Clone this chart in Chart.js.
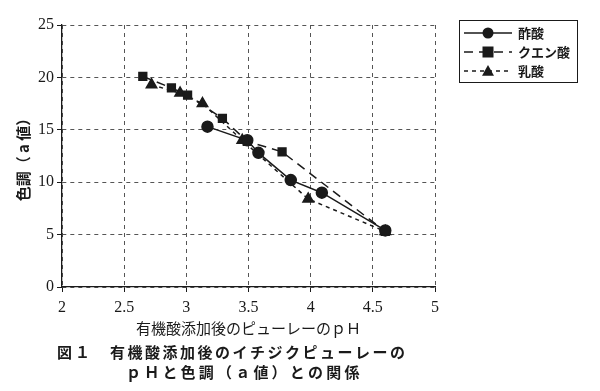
<!DOCTYPE html>
<html>
<head>
<meta charset="utf-8">
<script src="https://cdn.jsdelivr.net/npm/chart.js@4.4.1/dist/chart.umd.min.js"></script>
<style>
  html, body { margin: 0; padding: 0; background: #fff; }
  #wrap { width: 600px; height: 391px; }
</style>
</head>
<body>
<div id="wrap"><canvas id="chart1" width="600" height="391"></canvas></div>
<script>
const xTicks = [2, 2.5, 3, 3.5, 4, 4.5, 5];
const yTicks = [0, 5, 10, 15, 20, 25];

const sakusanPH = [3.17, 3.49, 3.58, 3.84, 4.09, 4.60];
const sakusanA  = [15.3, 14.0, 12.8, 10.2, 9.0, 5.4];

const citricPH = [2.65, 2.88, 3.01, 3.29, 3.49, 3.77, 4.60];
const citricA  = [20.1, 19.0, 18.3, 16.1, 13.9, 12.9, 5.3];

const lacticPH = [2.72, 2.95, 3.13, 3.45, 3.98, 4.60];
const lacticA  = [19.3, 18.5, 17.5, 14.0, 8.4, 5.3];

const seriesNames = ['酢酸', 'クエン酸', '乳酸'];

const jp = '"Noto Sans CJK JP", sans-serif';
const serif = '"Liberation Serif", "DejaVu Serif", serif';
const ink = '#1a1a1a';

function pts(xs, ys) {
  return xs.map((x, i) => ({ x: x, y: ys[i] }));
}

// legend box at upper right + caption under the chart
const extras = {
  id: 'extras',
  afterDraw(chart) {
    const ctx = chart.ctx;
    ctx.save();
    // legend
    ctx.strokeStyle = ink;
    ctx.lineWidth = 1;
    ctx.strokeRect(459.5, 20.5, 118, 62);
    chart.data.datasets.forEach((ds, i) => {
      const y = 33 + i * 19;
      ctx.beginPath();
      ctx.setLineDash(ds.borderDash || []);
      ctx.strokeStyle = ink;
      ctx.lineWidth = 1.3;
      ctx.moveTo(464, y);
      ctx.lineTo(512, y);
      ctx.stroke();
      ctx.setLineDash([]);
      ctx.fillStyle = ink;
      const r = ds.pointRadius;
      ctx.beginPath();
      if (ds.pointStyle === 'rect') {
        ctx.fillRect(488 - r, y - r, 2 * r, 2 * r);
      } else if (ds.pointStyle === 'triangle') {
        ctx.moveTo(488, y - r);
        ctx.lineTo(488 + r, y + r * 0.8);
        ctx.lineTo(488 - r, y + r * 0.8);
        ctx.closePath();
        ctx.fill();
      } else {
        ctx.arc(488, y, r, 0, Math.PI * 2);
        ctx.fill();
      }
      ctx.font = 'bold 13px ' + jp;
      ctx.textBaseline = 'middle';
      ctx.textAlign = 'left';
      ctx.fillText(ds.label, 518, y);
    });
    // caption
    ctx.fillStyle = ink;
    ctx.textBaseline = 'middle';
    ctx.textAlign = 'left';
    ctx.font = 'bold 15px ' + jp;
    ctx.letterSpacing = '3px';
    ctx.fillText('図１', 57, 352);
    ctx.letterSpacing = '2.5px';
    ctx.fillText('有機酸添加後のイチジクピューレーの', 110, 352);
    ctx.letterSpacing = '3.2px';
    ctx.fillText('ｐＨと色調（ａ値）との関係', 126, 372);
    ctx.restore();
  }
};

const config1 = {
  type: 'line',
  data: {
    datasets: [
      {
        label: seriesNames[0],
        data: pts(sakusanPH, sakusanA),
        borderColor: ink,
        backgroundColor: ink,
        borderWidth: 1.5,
        pointStyle: 'circle',
        pointRadius: 5.5,
        borderDash: []
      },
      {
        label: seriesNames[1],
        data: pts(citricPH, citricA),
        borderColor: ink,
        backgroundColor: ink,
        borderWidth: 1.5,
        pointStyle: 'rect',
        pointRadius: 5.5,
        borderDash: [9, 6]
      },
      {
        label: seriesNames[2],
        data: pts(lacticPH, lacticA),
        borderColor: ink,
        backgroundColor: ink,
        borderWidth: 1.5,
        pointStyle: 'triangle',
        pointRadius: 6,
        borderDash: [4, 4]
      }
    ]
  },
  options: {
    responsive: false,
    animation: false,
    layout: { padding: { top: 25, right: 165, bottom: 54, left: 0 } },
    plugins: {
      legend: { display: false },
      tooltip: { enabled: false }
    },
    scales: {
      x: {
        type: 'linear',
        min: 2,
        max: 5,
        afterBuildTicks: (s) => { s.ticks = xTicks.map(v => ({ value: v })); },
        afterFit: (s) => { s.height = 50; },
        ticks: {
          color: ink,
          font: { family: serif, size: 16 },
          padding: 6,
          maxRotation: 0,
          callback: (v) => String(v)
        },
        grid: {
          color: '#555',
          lineWidth: 1,
          tickColor: ink,
          tickLength: 5,
          tickBorderDash: []
        },
        border: { color: ink, width: 1.3, dash: [4, 4] },
        title: {
          display: true,
          text: '有機酸添加後のピューレーのｐＨ',
          color: ink,
          font: { family: jp, size: 15 },
          padding: { top: 0, bottom: 0 }
        }
      },
      y: {
        min: 0,
        max: 25,
        afterBuildTicks: (s) => { s.ticks = yTicks.map(v => ({ value: v })); },
        afterFit: (s) => { s.width = 62; },
        ticks: {
          color: ink,
          font: { family: serif, size: 16 },
          padding: 3,
          callback: (v) => String(v)
        },
        grid: {
          color: '#555',
          lineWidth: 1,
          tickColor: ink,
          tickLength: 5,
          tickBorderDash: []
        },
        border: { color: ink, width: 1.3, dash: [4, 4] },
        title: {
          display: true,
          text: '色調（ a 値）',
          color: ink,
          font: { family: jp, size: 15, weight: 'bold' },
          padding: { top: 14, bottom: 0 }
        }
      }
    }
  },
  plugins: [extras]
};

const chart1 = new Chart(document.getElementById('chart1'), config1);
</script>
</body>
</html>
